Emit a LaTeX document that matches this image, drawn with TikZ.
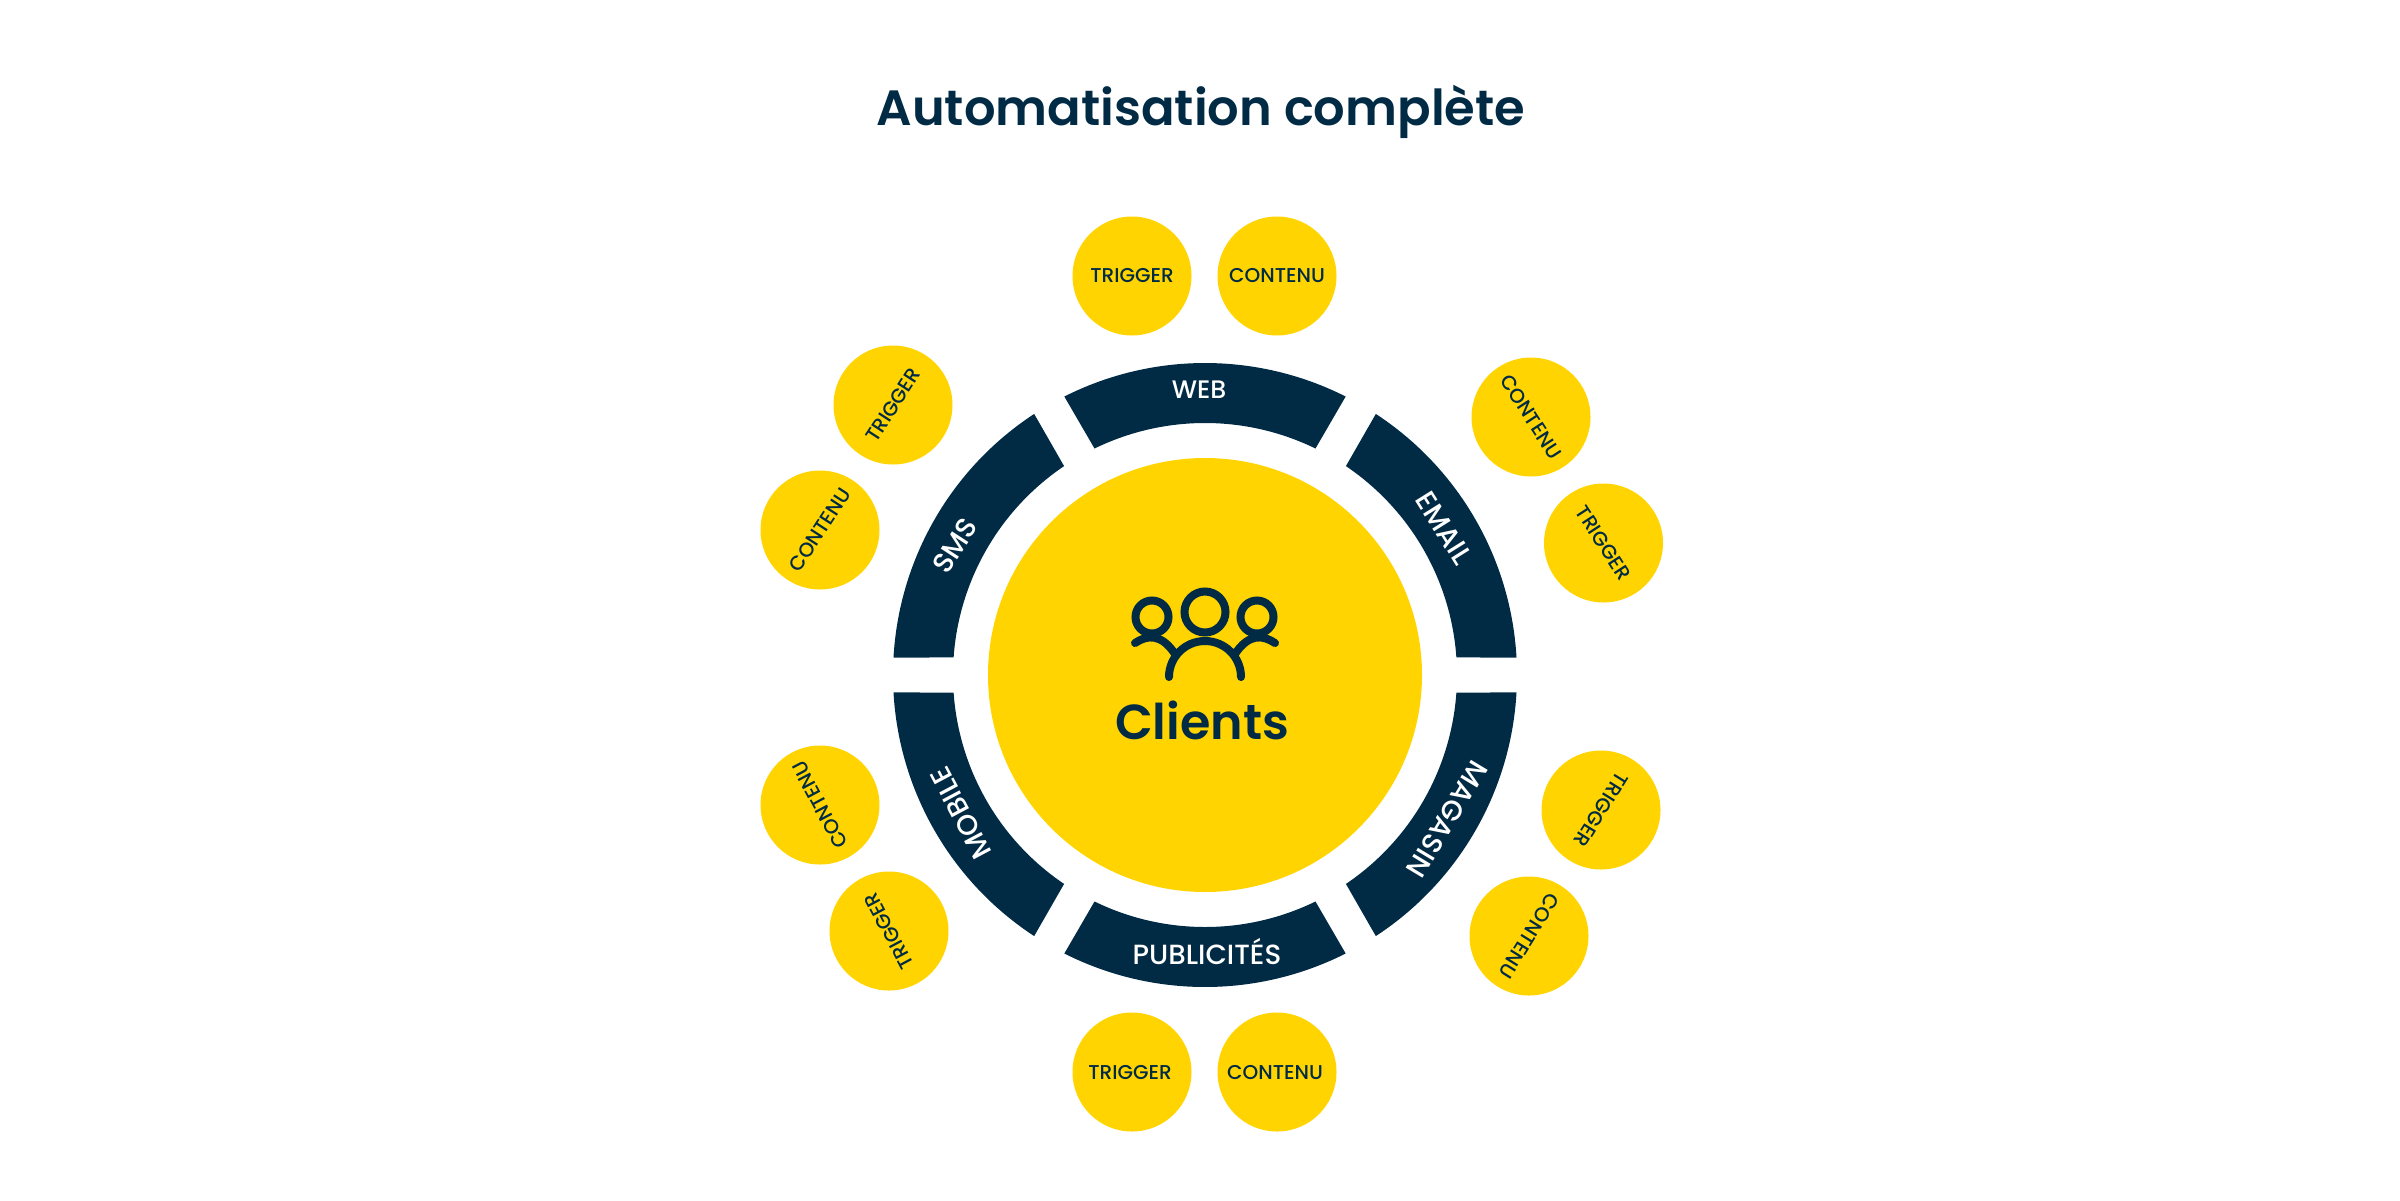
\documentclass[tikz,border=0pt]{standalone}
\usepackage{fontspec}
\setmainfont{Poppins}
\newfontfamily\titlefont{Poppins SemiBold}
\newfontfamily\labelfont{Poppins Medium}
\definecolor{navy}{HTML}{012B45}
\definecolor{gold}{HTML}{FFD400}
\tikzset{hub/.style={circle,fill=gold,inner sep=0pt,minimum size=4.34cm},
         bubble/.style={circle,fill=gold,inner sep=0pt,minimum size=1.19cm},
         tag/.style={text=navy,font=\labelfont\fontsize{5.7}{7}\selectfont,inner sep=0pt},
         channel/.style={text=white,font=\labelfont\fontsize{8}{9}\selectfont,inner sep=0pt},
         ring/.style={fill=navy},
         icon/.style={draw=navy,line width=0.8mm,line cap=round}
}
\newcommand{\ringpart}[1]{\fill[ring] (#1-26.8:3.12) arc (#1-26.8:#1+26.8:3.12) -- (#1+26:2.52) arc (#1+26:#1-26:2.52) -- cycle;}

\begin{document}
\begin{tikzpicture}
       \useasboundingbox (-12.05,-5.25) rectangle (11.95,6.75);
       \node[text=navy, font=\titlefont\fontsize{14.1}{17}\selectfont, inner sep=0pt] (title) at (-0.04,5.63) {Automatisation complète};
       \node[hub] (clients) at (0,0) {};
       \ringpart{90}
       \ringpart{30}
       \ringpart{-30}
       \ringpart{-90}
       \ringpart{210}
       \ringpart{150}
       \node[channel, font=\labelfont\fontsize{7.2}{8}\selectfont] (web) at (-0.06,2.85) {WEB};
       \node[channel, rotate=-58] (email) at (2.39,1.47) {EMAIL};
       \node[channel, rotate=-121] (magasin) at (2.42,-1.44) {MAGASIN};
       \node[channel, font=\labelfont\fontsize{7.9}{9}\selectfont] (pub) at (0.02,-2.77) {PUBLICITÉS};
       \node[channel, rotate=118] (mobile) at (-2.44,-1.38) {MOBILE};
       \node[channel, rotate=57] (sms) at (-2.50,1.29) {SMS};
       \node[bubble] (t1) at (-0.73,3.99) {};
       \node[bubble] (c1) at (0.72,3.99) {};
       \node[bubble] (c2) at (3.26,2.58) {};
       \node[bubble] (t2) at (3.985,1.32) {};
       \node[bubble] (t3) at (3.96,-1.35) {};
       \node[bubble] (c3) at (3.24,-2.61) {};
       \node[bubble] (t4) at (-0.73,-3.97) {};
       \node[bubble] (c4) at (0.72,-3.97) {};
       \node[bubble] (t5) at (-3.16,-2.56) {};
       \node[bubble] (c5) at (-3.85,-1.30) {};
       \node[bubble] (t6) at (-3.12,2.70) {};
       \node[bubble] (c6) at (-3.85,1.45) {};
       \node[tag] at (t1) {TRIGGER};
       \node[tag] at (c1) {CONTENU};
       \node[tag, rotate=-57] at (c2) {CONTENU};
       \node[tag, rotate=-57] at (t2) {TRIGGER};
       \node[tag, rotate=-122] at (t3) {TRIGGER};
       \node[tag, rotate=-122] at (c3) {CONTENU};
       \node[tag] at ([xshift=-0.02cm]t4) {TRIGGER};
       \node[tag] at ([xshift=-0.02cm]c4) {CONTENU};
       \node[tag, rotate=118] at (t5) {TRIGGER};
       \node[tag, rotate=118] at (c5) {CONTENU};
       \node[tag, rotate=57] at (t6) {TRIGGER};
       \node[tag, rotate=57] at (c6) {CONTENU};
       \draw[icon] (0,0.63) circle (0.205);
       \draw[icon] (-0.53,0.58) circle (0.165);
       \draw[icon] (0.52,0.58) circle (0.165);
       \draw[icon] (-0.36,-0.02) arc (180:0:0.36);
       \draw[icon] (-0.70,0.32) .. controls (-0.58,0.40) and (-0.44,0.42) .. (-0.30,0.21);
       \draw[icon] (0.70,0.32) .. controls (0.58,0.40) and (0.44,0.42) .. (0.30,0.21);
       \node[text=navy, font=\titlefont\fontsize{14}{17}\selectfont, inner sep=0pt] (name) at (-0.03,-0.45) {Clients};
\end{tikzpicture}
\end{document}
